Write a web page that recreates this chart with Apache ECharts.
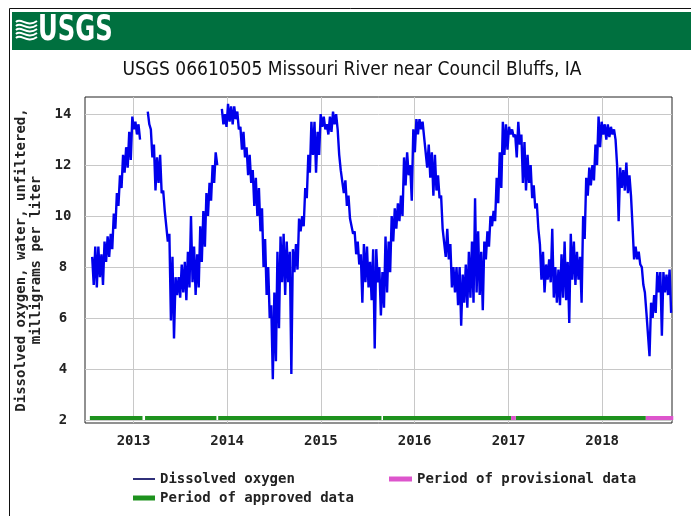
<!DOCTYPE html>
<html><head><meta charset="utf-8">
<script src="https://cdn.jsdelivr.net/npm/echarts@6/dist/echarts.min.js"></script>
<style>html,body{margin:0;padding:0;background:#fff}#c{width:691px;height:516px}</style>
</head><body><div id="c"></div>
<script>
const chartTitle = 'USGS 06610505 Missouri River near Council Bluffs, IA';
const yAxisTitle = 'Dissolved oxygen, water, unfiltered,\nmilligrams per liter';
const yTicks = [2, 4, 6, 8, 10, 12, 14];
const xTicks = ['2013-01-01', '2014-01-01', '2015-01-01', '2016-01-01', '2017-01-01', '2018-01-01'];
const xRange = ['2012-06-26', '2018-09-30'];
const yRange = [1.88, 14.67];
const seriesNames = ['Dissolved oxygen', 'Period of approved data', 'Period of provisional data'];
// sampled readings: start date and step (days); each step has a high and a low reading
const sampleStart = '2012-07-24';
const sampleStepDays = 12.03;
const doHigh = [
 8.4, 8.8, 8.8, 8.5, 9.0, 9.2, 9.3, 10.1, 10.9, 11.6,
 12.4, 12.7, 13.3, 13.9, 13.7, 13.6, null, null, 14.1, 13.4,
 12.8, 12.3, 12.4, 11.0, 10.2, 9.3, 8.4, 7.6, 7.6, 8.1,
 8.2, 8.6, 10.0, 8.8, 8.5, 9.6, 10.2, 10.9, 11.3, 12.0,
 12.5, null, 14.2, 14.0, 14.4, 14.3, 14.3, 14.1, 13.5, 13.3,
 12.7, 12.4, 11.8, 11.5, 11.1, 10.3, 9.1, 8.0, 6.5, 7.0,
 8.6, 9.2, 9.3, 9.0, 8.6, 8.7, 8.9, 9.9, 10.0, 11.1,
 12.4, 13.7, 13.7, 13.3, 14.0, 13.9, 13.6, 13.9, 14.1, 14.0,
 12.4, 11.8, 11.4, 10.8, 9.9, 9.4, 9.0, 8.5, 8.9, 8.8,
 8.2, 8.7, 8.7, 8.0, 7.8, 9.2, 9.0, 10.0, 10.3, 10.5,
 10.8, 12.3, 12.5, 12.0, 13.4, 13.8, 13.8, 13.7, 13.1, 12.8,
 12.5, 12.4, 11.6, 10.8, 9.5, 9.5, 8.9, 8.0, 8.0, 8.0,
 7.7, 8.1, 8.6, 9.0, 10.7, 9.4, 8.6, 9.0, 9.4, 10.0,
 10.2, 11.5, 12.5, 13.7, 13.6, 13.5, 13.4, 13.2, 13.7, 13.2,
 12.9, 12.4, 12.0, 11.2, 10.5, 8.9, 8.6, 8.1, 8.3, 9.5,
 8.0, 7.9, 8.5, 9.0, 8.2, 9.3, 9.0, 8.6, 8.4, 10.0,
 11.5, 11.9, 12.0, 12.8, 13.9, 13.7, 13.6, 13.6, 13.5, 13.4,
 12.0, 11.9, 11.8, 12.1, 11.6, 9.6, 8.8, 8.6, 8.0, 7.0,
 6.2, 6.6, 6.9, 7.8, 7.8, 7.8, 7.7, 7.9
];
const doLow = [
 7.3, 7.2, 7.6, 7.3, 8.2, 8.4, 8.7, 9.5, 10.4, 11.1,
 11.7, 11.9, 12.2, 13.4, 13.2, 13.0, null, null, 13.6, 12.3,
 11.0, 11.3, 10.9, 10.2, 9.0, 5.9, 5.2, 6.9, 6.8, 7.0,
 6.7, 7.2, 7.4, 6.9, 7.2, 8.2, 8.8, 10.0, 10.6, 11.3,
 12.0, null, 13.6, 13.5, 13.7, 13.6, 13.8, 13.4, 12.6, 12.3,
 11.6, 11.3, 10.4, 10.0, 9.4, 8.0, 6.9, 6.0, 3.6, 4.3,
 5.6, 7.4, 6.9, 7.4, 3.8, 7.8, 7.9, 9.4, 9.6, 10.7,
 11.7, 12.4, 11.7, 12.4, 13.5, 13.4, 13.2, 13.3, 13.6, 13.4,
 11.8, 10.9, 10.4, 9.9, 9.3, 8.5, 8.1, 6.6, 7.4, 7.2,
 6.7, 4.8, 7.4, 6.1, 6.4, 7.0, 7.8, 9.0, 9.5, 9.8,
 10.0, 11.2, 11.6, 10.6, 12.5, 13.2, 13.4, 13.1, 11.9, 11.5,
 10.8, 11.0, 10.7, 9.5, 8.4, 8.3, 7.2, 7.0, 6.5, 5.7,
 6.6, 6.4, 6.8, 6.6, 7.0, 6.9, 6.3, 8.3, 8.8, 9.6,
 9.8, 10.5, 11.1, 12.4, 12.6, 13.2, 13.1, 12.3, 12.8, 11.3,
 11.0, 11.3, 10.7, 10.3, 9.5, 7.5, 7.0, 7.5, 7.4, 6.8,
 6.6, 6.5, 6.8, 6.7, 5.8, 7.5, 7.3, 7.5, 6.6, 9.1,
 10.8, 11.2, 11.4, 12.0, 12.7, 13.2, 13.0, 13.1, 13.2, 13.0,
 9.8, 11.1, 11.0, 10.9, 10.8, 8.3, 8.3, 8.1, 7.3, 6.2,
 4.5, 6.0, 6.2, 7.0, 5.3, 7.0, 6.9, 6.2
];
const approvedPeriods = [
 ['2012-07-15', '2013-02-05'], ['2013-02-15', '2013-11-20'], ['2013-11-27', '2015-08-25'],
 ['2015-08-31', '2017-01-11'], ['2017-01-29', '2018-06-20']
];
const provisionalPeriods = [['2017-01-11', '2017-01-29'], ['2018-06-20', '2018-10-05']];
const periodLevel = 2.08;

const DAY = 86400000;
function parseDate(s) { const p = s.split('-').map(Number); return new Date(p[0], p[1] - 1, p[2]).getTime(); }
const t0 = parseDate(sampleStart);
const doData = [];
for (let i = 0; i < doHigh.length; i++) {
  const t = t0 + i * sampleStepDays * DAY;
  if (doHigh[i] == null) { doData.push([t, '-']); continue; }
  doData.push([t, doHigh[i]]);
  doData.push([t + sampleStepDays * DAY / 2, doLow[i]]);
}
function periodData(list) {
  const out = [];
  list.forEach(p => {
    out.push([parseDate(p[0]), periodLevel]);
    out.push([parseDate(p[1]), periodLevel]);
    out.push([parseDate(p[1]), '-']);
  });
  return out;
}
const xTickVals = xTicks.map(parseDate);
const mono = "'DejaVu Sans Mono','Liberation Mono',monospace";
const narrow = "'Liberation Sans Narrow','DejaVu Sans Condensed','Liberation Sans',sans-serif";
const labelStyle = { fontFamily: mono, fontSize: 14, fontWeight: 'bold', color: '#222' };
const colors = { do: '#0000ec', doLegend: '#30307a', approved: '#1e921e', provisional: '#dd55cc' };

const waves = [0, 1, 2, 3, 4].map(k => ({
  type: 'bezierCurve',
  shape: { x1: 16, y1: 22 + k * 4, cpx1: 21, cpy1: 17 + k * 4, cpx2: 27, cpy2: 28 + k * 4, x2: 37, y2: 21 + k * 4 },
  style: { stroke: '#fff', fill: null, lineWidth: 2 }
}));

const chart = echarts.init(document.getElementById('c'), null, { renderer: 'canvas' });
chart.setOption({
  animation: false,
  backgroundColor: '#fff',
  title: {
    text: chartTitle, left: 352, top: 61, textAlign: 'center', padding: 0,
    textStyle: { fontFamily: narrow, fontSize: 19, fontWeight: 'normal', color: '#111' }
  },
  graphic: [
    { type: 'line', shape: { x1: 9.5, y1: 8.5, x2: 691, y2: 8.5 }, style: { stroke: '#111', lineWidth: 1 } },
    { type: 'line', shape: { x1: 9.5, y1: 8.5, x2: 9.5, y2: 516 }, style: { stroke: '#111', lineWidth: 1 } },
    { type: 'rect', shape: { x: 12, y: 12, width: 679, height: 38 }, style: { fill: '#00703f' } },
    { type: 'group', children: waves },
    { type: 'text', x: 38, y: 31, scaleX: 0.75, style: { text: 'USGS', fill: '#fff', font: "bold 36px 'Liberation Sans Narrow','DejaVu Sans Condensed',sans-serif", verticalAlign: 'middle' } }
  ],
  grid: { left: 85, top: 97, width: 587, height: 326, show: true, borderColor: '#222', borderWidth: 1, backgroundColor: '#fff' },
  xAxis: {
    type: 'value', min: parseDate(xRange[0]), max: parseDate(xRange[1]),
    axisLine: { show: false },
    axisTick: { show: false, customValues: xTickVals },
    axisLabel: Object.assign({ customValues: xTickVals, margin: 11, formatter: v => String(new Date(v).getFullYear()) }, labelStyle),
    splitLine: { show: true, lineStyle: { color: '#c8c8c8', width: 1 } }
  },
  yAxis: {
    type: 'value', min: yRange[0], max: yRange[1],
    name: yAxisTitle, nameLocation: 'middle', nameRotate: 90, nameGap: 55,
    nameTextStyle: Object.assign({ lineHeight: 15, align: 'center', verticalAlign: 'middle' }, labelStyle),
    axisLine: { show: false },
    axisTick: { show: false, customValues: yTicks },
    axisLabel: Object.assign({ customValues: yTicks, margin: 22, align: 'center' }, labelStyle),
    splitLine: { show: true, lineStyle: { color: '#c8c8c8', width: 1 } }
  },
  legend: [
    { left: 133, top: 472, padding: 0, itemWidth: 22, itemHeight: 2, icon: 'rect', selectedMode: false,
      data: [{ name: seriesNames[0], itemStyle: { color: colors.doLegend } }], textStyle: labelStyle },
    { left: 389, top: 472, padding: 0, itemWidth: 23, itemHeight: 5, icon: 'rect', selectedMode: false,
      data: [seriesNames[2]], textStyle: labelStyle },
    { left: 133, top: 491, padding: 0, itemWidth: 22, itemHeight: 5, icon: 'rect', selectedMode: false,
      data: [seriesNames[1]], textStyle: labelStyle }
  ],
  series: [
    { name: seriesNames[0], type: 'line', data: doData, showSymbol: false, symbol: 'none', connectNulls: false,
      lineStyle: { color: colors.do, width: 2.4, join: 'bevel' }, itemStyle: { color: colors.do }, z: 2 },
    { name: seriesNames[1], type: 'line', data: periodData(approvedPeriods), showSymbol: false, symbol: 'none',
      lineStyle: { color: colors.approved, width: 4, cap: 'butt' }, itemStyle: { color: colors.approved }, z: 3 },
    { name: seriesNames[2], type: 'line', data: periodData(provisionalPeriods), showSymbol: false, symbol: 'none',
      lineStyle: { color: colors.provisional, width: 4, cap: 'butt' }, itemStyle: { color: colors.provisional }, z: 3 }
  ]
});
</script></body></html>
